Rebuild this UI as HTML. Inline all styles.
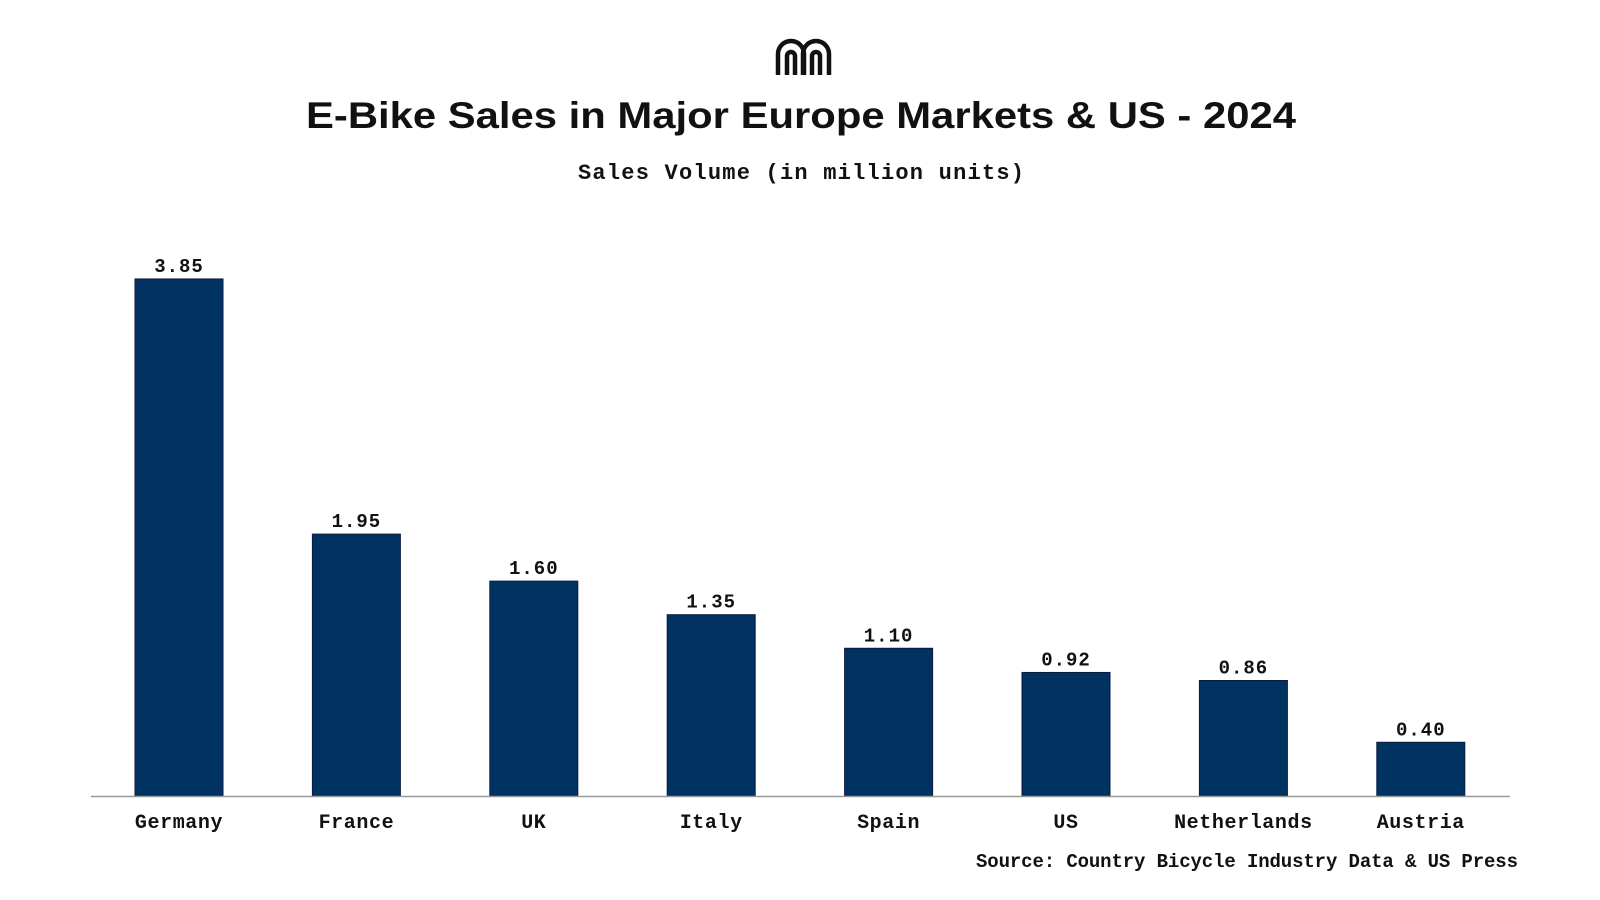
<!DOCTYPE html>
<html><head><meta charset="utf-8"><style>
html,body{margin:0;padding:0;background:#fff;}
svg{display:block;}
.mono{font-family:"Liberation Mono",monospace;font-weight:bold;fill:#111;}
</style></head><body>
<svg id="chart" width="1600" height="900" viewBox="0 0 1600 900">
  <g fill="none" stroke="#111" stroke-width="4.5">
    <path d="M778 75 V54 a13 13 0 0 1 26 0 V75"/>
    <path d="M787 75 V56 a4 4 0 0 1 8 0 V75"/>
    <path d="M803 75 V54 a13 13 0 0 1 26 0 V75"/>
    <path d="M812 75 V56 a4 4 0 0 1 8 0 V75"/>
  </g>
  <text x="801" y="128" text-anchor="middle" font-family="Liberation Sans, sans-serif" font-weight="bold" font-size="37" textLength="990" lengthAdjust="spacingAndGlyphs" fill="#111">E-Bike Sales in Major Europe Markets &amp; US - 2024</text>
  <text x="801" y="179" text-anchor="middle" class="mono" font-size="22" textLength="446">Sales Volume (in million units)</text>
  <g id="bars"></g>
  <line x1="91" y1="796.5" x2="1510" y2="796.5" stroke="#999" stroke-width="1.5"/>
  <text x="1518" y="867" text-anchor="end" class="mono" font-size="19" textLength="542">Source: Country Bicycle Industry Data &amp; US Press</text>
</svg>
<script>
const categories = ["Germany","France","UK","Italy","Spain","US","Netherlands","Austria"];
const values = [3.85,1.95,1.60,1.35,1.10,0.92,0.86,0.40];
const valueLabels = ["3.85","1.95","1.60","1.35","1.10","0.92","0.86","0.40"];

const baseY = 796, pxPerUnit = 134.3, x0 = 179, step = 177.4, barW = 88;
const yScale = v => baseY - v * pxPerUnit;
const xCenter = i => x0 + i * step;
const ns = "http://www.w3.org/2000/svg";
const g = document.getElementById("bars");
categories.forEach((c, i) => {
  const cx = xCenter(i), top = yScale(values[i]);
  const r = document.createElementNS(ns, "rect");
  r.setAttribute("x", cx - barW/2);
  r.setAttribute("y", top);
  r.setAttribute("width", barW);
  r.setAttribute("height", baseY - top);
  r.setAttribute("fill", "#003361");
  r.setAttribute("stroke", "#0a1a40");
  r.setAttribute("stroke-width", "1");
  
  
  g.appendChild(r);
  const t = document.createElementNS(ns, "text");
  t.setAttribute("x", cx);
  t.setAttribute("y", top - 7);
  t.setAttribute("text-anchor", "middle");
  t.setAttribute("class", "mono");
  t.setAttribute("font-size", "19");
  t.setAttribute("letter-spacing", "1");
  t.textContent = valueLabels[i];
  
  
  g.appendChild(t);
  const l = document.createElementNS(ns, "text");
  l.setAttribute("x", cx);
  l.setAttribute("y", 828);
  l.setAttribute("text-anchor", "middle");
  l.setAttribute("class", "mono");
  l.setAttribute("font-size", "20");
  l.setAttribute("letter-spacing", "0.6");
  l.textContent = c;
  
  
  g.appendChild(l);
});
</script>
</body></html>
